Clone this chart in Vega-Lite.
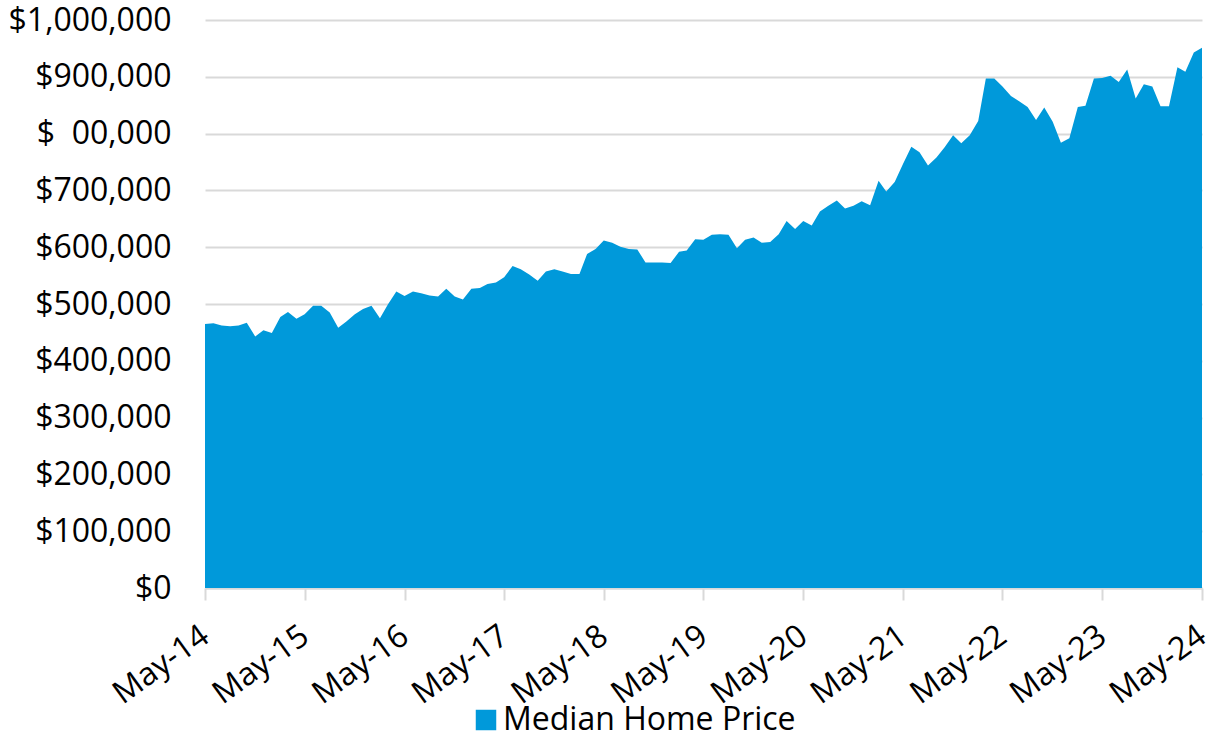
{
  "$schema": "https://vega.github.io/schema/vega-lite/v6.json",
  "width": 997,
  "height": 568,
  "autosize": "none",
  "padding": {"left": 205, "top": 20, "right": 10, "bottom": 145},
  "background": "white",
  "config": {
    "view": {"stroke": null},
    "font": "Open Sans"
  },
  "data": {
    "values": [
      {"month": "2014-05-01", "price": 465000},
      {"month": "2014-06-01", "price": 466000},
      {"month": "2014-07-01", "price": 462000},
      {"month": "2014-08-01", "price": 461000},
      {"month": "2014-09-01", "price": 462000},
      {"month": "2014-10-01", "price": 467000},
      {"month": "2014-11-01", "price": 443000},
      {"month": "2014-12-01", "price": 454000},
      {"month": "2015-01-01", "price": 449000},
      {"month": "2015-02-01", "price": 477000},
      {"month": "2015-03-01", "price": 486000},
      {"month": "2015-04-01", "price": 474000},
      {"month": "2015-05-01", "price": 482000},
      {"month": "2015-06-01", "price": 497000},
      {"month": "2015-07-01", "price": 497000},
      {"month": "2015-08-01", "price": 485000},
      {"month": "2015-09-01", "price": 458000},
      {"month": "2015-10-01", "price": 469000},
      {"month": "2015-11-01", "price": 482000},
      {"month": "2015-12-01", "price": 491000},
      {"month": "2016-01-01", "price": 497000},
      {"month": "2016-02-01", "price": 475000},
      {"month": "2016-03-01", "price": 499000},
      {"month": "2016-04-01", "price": 522000},
      {"month": "2016-05-01", "price": 514000},
      {"month": "2016-06-01", "price": 522000},
      {"month": "2016-07-01", "price": 519000},
      {"month": "2016-08-01", "price": 515000},
      {"month": "2016-09-01", "price": 513000},
      {"month": "2016-10-01", "price": 527000},
      {"month": "2016-11-01", "price": 513000},
      {"month": "2016-12-01", "price": 508000},
      {"month": "2017-01-01", "price": 527000},
      {"month": "2017-02-01", "price": 528000},
      {"month": "2017-03-01", "price": 535000},
      {"month": "2017-04-01", "price": 538000},
      {"month": "2017-05-01", "price": 547000},
      {"month": "2017-06-01", "price": 567000},
      {"month": "2017-07-01", "price": 561000},
      {"month": "2017-08-01", "price": 552000},
      {"month": "2017-09-01", "price": 541000},
      {"month": "2017-10-01", "price": 557000},
      {"month": "2017-11-01", "price": 561000},
      {"month": "2017-12-01", "price": 557000},
      {"month": "2018-01-01", "price": 553000},
      {"month": "2018-02-01", "price": 553000},
      {"month": "2018-03-01", "price": 588000},
      {"month": "2018-04-01", "price": 597000},
      {"month": "2018-05-01", "price": 612000},
      {"month": "2018-06-01", "price": 608000},
      {"month": "2018-07-01", "price": 601000},
      {"month": "2018-08-01", "price": 597000},
      {"month": "2018-09-01", "price": 596000},
      {"month": "2018-10-01", "price": 573000},
      {"month": "2018-11-01", "price": 573000},
      {"month": "2018-12-01", "price": 573000},
      {"month": "2019-01-01", "price": 572000},
      {"month": "2019-02-01", "price": 592000},
      {"month": "2019-03-01", "price": 594000},
      {"month": "2019-04-01", "price": 614000},
      {"month": "2019-05-01", "price": 613000},
      {"month": "2019-06-01", "price": 622000},
      {"month": "2019-07-01", "price": 623000},
      {"month": "2019-08-01", "price": 622000},
      {"month": "2019-09-01", "price": 598000},
      {"month": "2019-10-01", "price": 613000},
      {"month": "2019-11-01", "price": 617000},
      {"month": "2019-12-01", "price": 608000},
      {"month": "2020-01-01", "price": 609000},
      {"month": "2020-02-01", "price": 623000},
      {"month": "2020-03-01", "price": 646000},
      {"month": "2020-04-01", "price": 632000},
      {"month": "2020-05-01", "price": 646000},
      {"month": "2020-06-01", "price": 638000},
      {"month": "2020-07-01", "price": 663000},
      {"month": "2020-08-01", "price": 673000},
      {"month": "2020-09-01", "price": 682000},
      {"month": "2020-10-01", "price": 668000},
      {"month": "2020-11-01", "price": 673000},
      {"month": "2020-12-01", "price": 681000},
      {"month": "2021-01-01", "price": 674000},
      {"month": "2021-02-01", "price": 717000},
      {"month": "2021-03-01", "price": 698000},
      {"month": "2021-04-01", "price": 715000},
      {"month": "2021-05-01", "price": 746000},
      {"month": "2021-06-01", "price": 777000},
      {"month": "2021-07-01", "price": 767000},
      {"month": "2021-08-01", "price": 744000},
      {"month": "2021-09-01", "price": 758000},
      {"month": "2021-10-01", "price": 776000},
      {"month": "2021-11-01", "price": 797000},
      {"month": "2021-12-01", "price": 783000},
      {"month": "2022-01-01", "price": 797000},
      {"month": "2022-02-01", "price": 822000},
      {"month": "2022-03-01", "price": 897000},
      {"month": "2022-04-01", "price": 897000},
      {"month": "2022-05-01", "price": 883000},
      {"month": "2022-06-01", "price": 866000},
      {"month": "2022-07-01", "price": 857000},
      {"month": "2022-08-01", "price": 847000},
      {"month": "2022-09-01", "price": 824000},
      {"month": "2022-10-01", "price": 846000},
      {"month": "2022-11-01", "price": 821000},
      {"month": "2022-12-01", "price": 784000},
      {"month": "2023-01-01", "price": 792000},
      {"month": "2023-02-01", "price": 847000},
      {"month": "2023-03-01", "price": 849000},
      {"month": "2023-04-01", "price": 897000},
      {"month": "2023-05-01", "price": 898000},
      {"month": "2023-06-01", "price": 902000},
      {"month": "2023-07-01", "price": 891000},
      {"month": "2023-08-01", "price": 913000},
      {"month": "2023-09-01", "price": 862000},
      {"month": "2023-10-01", "price": 887000},
      {"month": "2023-11-01", "price": 883000},
      {"month": "2023-12-01", "price": 848000},
      {"month": "2024-01-01", "price": 848000},
      {"month": "2024-02-01", "price": 917000},
      {"month": "2024-03-01", "price": 909000},
      {"month": "2024-04-01", "price": 943000},
      {"month": "2024-05-01", "price": 951000}
    ]
  },
  "transform": [{"calculate": "'Median Home Price'", "as": "series"}],
  "mark": {"type": "area", "interpolate": "linear"},
  "encoding": {
    "x": {
      "field": "month",
      "type": "temporal",
      "scale": {
        "type": "utc",
        "domain": [
          {"year": 2014, "month": 5, "date": 1, "utc": true},
          {"year": 2024, "month": 5, "date": 1, "utc": true}
        ]
      },
      "axis": {
        "title": null,
        "values": [
          {"year": 2014, "month": 5, "date": 1, "utc": true},
          {"year": 2015, "month": 5, "date": 1, "utc": true},
          {"year": 2016, "month": 5, "date": 1, "utc": true},
          {"year": 2017, "month": 5, "date": 1, "utc": true},
          {"year": 2018, "month": 5, "date": 1, "utc": true},
          {"year": 2019, "month": 5, "date": 1, "utc": true},
          {"year": 2020, "month": 5, "date": 1, "utc": true},
          {"year": 2021, "month": 5, "date": 1, "utc": true},
          {"year": 2022, "month": 5, "date": 1, "utc": true},
          {"year": 2023, "month": 5, "date": 1, "utc": true},
          {"year": 2024, "month": 5, "date": 1, "utc": true}
        ],
        "labelExpr": "utcFormat(datum.value, '%b-%y')",
        "labelAngle": -36,
        "labelAlign": "right",
        "labelBaseline": "middle",
        "labelFont": "Open Sans",
        "labelFontSize": 32,
        "labelColor": "#000000",
        "labelPadding": 32,
        "labelOverlap": false,
        "labelFlush": false,
        "labelBound": false,
        "grid": false,
        "domainColor": "#d9d9d9",
        "domainWidth": 2,
        "tickColor": "#d9d9d9",
        "tickWidth": 2,
        "tickSize": 12
      }
    },
    "y": {
      "field": "price",
      "type": "quantitative",
      "scale": {"domain": [0, 1000000], "nice": false},
      "axis": {
        "title": null,
        "values": [0, 100000, 200000, 300000, 400000, 500000, 600000, 700000, 800000, 900000, 1000000],
        "labelExpr": "datum.value == 800000 ? '$\u00a0\u00a000,000' : '$' + format(datum.value, ',')",
        "labelFont": "Open Sans",
        "labelFontSize": 32,
        "labelColor": "#000000",
        "labelPadding": 34,
        "domain": false,
        "ticks": false,
        "grid": true,
        "gridColor": "#d9d9d9",
        "gridWidth": 2
      }
    },
    "color": {
      "field": "series",
      "type": "nominal",
      "scale": {"range": ["#0099da"]},
      "legend": {
        "title": null,
        "orient": "none",
        "legendX": 265,
        "legendY": 684,
        "symbolType": "square",
        "symbolSize": 420,
        "symbolStrokeWidth": 0,
        "symbolOpacity": 1,
        "labelFont": "Open Sans",
        "labelFontSize": 32,
        "labelLimit": 0,
        "labelColor": "#000000",
        "labelOffset": 1
      }
    }
  }
}
